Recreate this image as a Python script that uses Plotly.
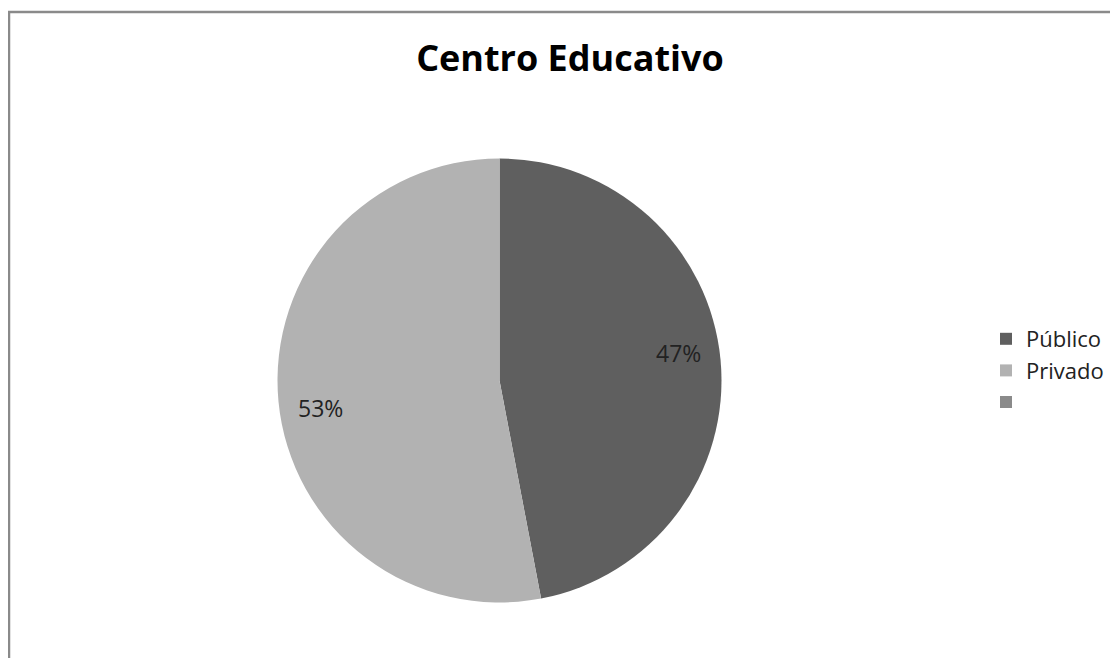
import math
import plotly.graph_objects as go

# figure sits inside the page's 8px body margin
W, H = 1110, 650

title_text = "Centro Educativo"
labels = ["Público", "Privado", " "]
values = [47, 53, 0]
colors = ["#5f5f5f", "#b2b2b2", "#8a8a8a"]

# pie geometry (figure pixels)
cx, cy, R = 491.5, 372.5, 222
label_r_frac = 0.815
label_angle_shift = -3.5  # degrees

fig = go.Figure(go.Pie(
    labels=labels,
    values=values,
    sort=False,
    direction="clockwise",
    rotation=0,
    marker=dict(colors=colors, line=dict(width=0)),
    textinfo="none",
    domain=dict(x=[(cx - R) / W, (cx + R) / W], y=[1 - (cy + R) / H, 1 - (cy - R) / H]),
    showlegend=True,
    hoverinfo="label+percent",
))

# percentage labels placed inside each slice
total = sum(values)
annotations = []
cum = 0.0
for lab, v in zip(labels, values):
    if v <= 0:
        continue
    mid = (cum + v / 2) / total * 360 + label_angle_shift
    cum += v
    a = math.radians(mid)
    px = cx + label_r_frac * R * math.sin(a)
    py = cy - label_r_frac * R * math.cos(a)
    annotations.append(dict(
        x=px / W, y=1 - py / H, xref="paper", yref="paper",
        text=f"{round(v / total * 100)}%", showarrow=False,
        xanchor="center", yanchor="middle",
        font=dict(family="Open Sans", size=23, color="#222222"),
    ))

fig.update_layout(
    width=W, height=H,
    margin=dict(l=0, r=0, t=0, b=0),
    paper_bgcolor="white",
    plot_bgcolor="white",
    title=dict(text="<b>" + title_text + "</b>", x=562 / W, xanchor="center",
               y=1 - 50 / H, yanchor="middle",
               font=dict(family="Open Sans", size=36, color="#000000")),
    legend=dict(x=978 / W, xanchor="left", y=1 - 310 / H, yanchor="top",
                font=dict(family="Open Sans", size=22, color="#222222"),
                bgcolor="rgba(0,0,0,0)", itemwidth=30),
    annotations=annotations,
    shapes=[dict(type="rect", xref="paper", yref="paper",
                 x0=1 / W, x1=1.02, y0=-0.02, y1=1 - 4 / H,
                 line=dict(color="#8a8a8a", width=2.5), fillcolor="rgba(0,0,0,0)")],
)

fig.write_html("out.html")
